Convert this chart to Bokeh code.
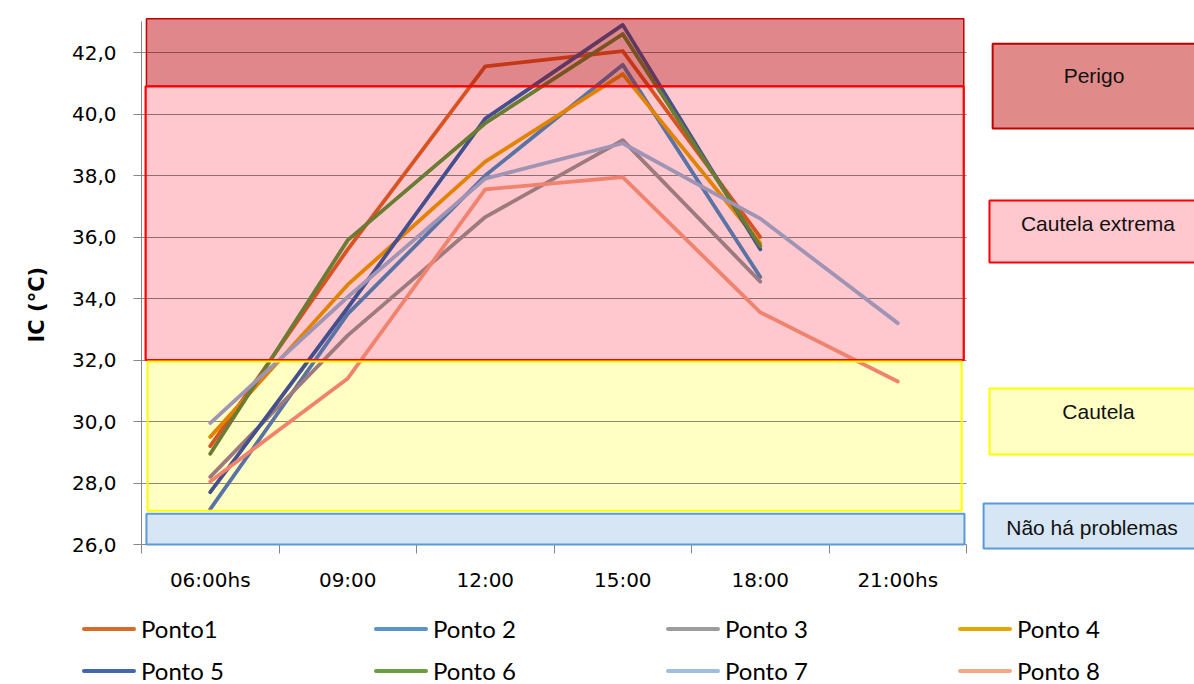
from bokeh.plotting import figure
from bokeh.layouts import column
from bokeh.models import Range1d, FixedTicker, Title, Div
from bokeh.core.properties import value
from bokeh.embed import file_html
from bokeh.resources import INLINE

nan = float("nan")

# ---------------- data ----------------
categories = ["06:00hs", "09:00", "12:00", "15:00", "18:00", "21:00hs"]
series_names = ["Ponto1", "Ponto 2", "Ponto 3", "Ponto 4",
                "Ponto 5", "Ponto 6", "Ponto 7", "Ponto 8"]
ponto1 = [29.2, 35.6, 41.55, 42.05, 36.0, nan]
ponto2 = [27.15, 33.5, 38.0, 41.6, 34.7, nan]
ponto3 = [28.2, 32.8, 36.65, 39.15, 34.55, nan]
ponto4 = [29.5, 34.45, 38.45, 41.3, 35.8, nan]
ponto5 = [27.7, 33.7, 39.85, 42.9, 35.6, nan]
ponto6 = [28.95, 35.9, 39.7, 42.6, 35.7, nan]
ponto7 = [29.95, 34.05, 37.9, 39.05, 36.6, 33.2]
ponto8 = [28.05, 31.4, 37.55, 37.95, 33.55, 31.3]
series_values = [ponto1, ponto2, ponto3, ponto4, ponto5, ponto6, ponto7, ponto8]

y_ticks = [26, 28, 30, 32, 34, 36, 38, 40, 42]
y_tick_labels = ["26,0", "28,0", "30,0", "32,0", "34,0", "36,0", "38,0", "40,0", "42,0"]
y_axis_title = "IC (°C)"

band_names = ["Não há problemas", "Cautela", "Cautela extrema", "Perigo"]
band_bottom = [26.0, 27.1, 32.0, 40.9]
band_top = [27.0, 31.95, 40.9, 43.1]

# ---------------- styles ----------------
series_colors = ["#D86A2A", "#5B93CB", "#9C9C9C", "#E2A800",
                 "#4466B0", "#6A9E3E", "#A0BEE0", "#F0A888"]
band_fill = ["#D6E6F4", "#FFFFC4", "#FFC7CE", "#E08A8A"]
band_line = ["#5B9BD5", "#FFFF00", "#FF0000", "#C00000"]
PINK = band_fill[2]


def mult(c, t):
    c = c.lstrip("#"); t = t.lstrip("#")
    a = [int(c[i:i + 2], 16) for i in (0, 2, 4)]
    b = [int(t[i:i + 2], 16) for i in (0, 2, 4)]
    return "#%02x%02x%02x" % tuple(round(x * y / 255) for x, y in zip(a, b))


xs = [i + 0.5 for i in range(len(categories))]

W = 1194
p = figure(width=W, height=600, output_backend="svg", toolbar_location=None,
           x_range=Range1d(0, 7.658), y_range=Range1d(26, 43.14),
           min_border_left=141, min_border_right=0, min_border_top=17,
           min_border_bottom=56)
p.outline_line_color = None
p.background_fill_color = "white"

# grid
p.xgrid.visible = False
p.ygrid.ticker = FixedTicker(ticks=y_ticks)
p.ygrid.grid_line_color = "black"
p.ygrid.grid_line_alpha = 0.45
p.ygrid.grid_line_width = 1
p.ygrid.cross_bounds = (0, 6)

# plot bands (base fills, under everything)
band_x0 = [0.036, 0.044, 0.030, 0.036]
band_x1 = [5.985, 5.965, 5.98, 5.98]
base_fill = [band_fill[0], band_fill[1], band_fill[2], PINK]
p.quad(left=band_x0, right=band_x1, bottom=band_bottom, top=band_top,
       fill_color=base_fill, line_color=None, level="image")

# series lines (colours as seen through the pink band)
for vals, col in zip(series_values, series_colors):
    p.line(x=xs, y=vals, line_color=mult(col, PINK), line_width=3.8,
           line_join="round", line_cap="round")

# darker overlay for "Perigo"
p.quad(left=[band_x0[3]], right=[band_x1[3]], bottom=[band_bottom[3]], top=[band_top[3]],
       fill_color="#9E0000", fill_alpha=0.32, line_color=None, level="overlay")

# band borders
for i, w in [(3, 1.5), (2, 2.2), (1, 2), (0, 2)]:
    p.quad(left=[band_x0[i]], right=[band_x1[i]], bottom=[band_bottom[i]], top=[band_top[i]],
           fill_color=None, line_color=band_line[i], line_width=w, level="overlay")

# right-side label boxes
box_left = [6.124, 6.167, 6.167, 6.19]
box_right = [8.0, 8.0, 8.0, 8.0]
box_bottom = [25.87, 28.93, 35.17, 39.53]
box_top = [27.33, 31.07, 37.19, 42.29]
p.quad(left=box_left, right=box_right, bottom=box_bottom, top=box_top,
       fill_color=band_fill, line_color=band_line, line_width=2, level="overlay")
text_x = [6.913, 6.96, 6.956, 6.927]
text_y = [26.55, 30.33, 36.44, 41.25]
p.text(x=text_x, y=text_y, text=band_names, text_font=value("Liberation Sans"),
       text_font_size="21px", text_align="center", text_baseline="middle",
       text_color="#111111", level="overlay")

# axes
p.xaxis.ticker = FixedTicker(ticks=xs, minor_ticks=list(range(0, len(categories) + 1)))
p.xaxis.major_label_overrides = {x: c for x, c in zip(xs, categories)}
p.xaxis.major_tick_line_color = None
p.xaxis.major_tick_out = 0
p.xaxis.major_tick_in = 0
p.xaxis.minor_tick_out = 9
p.xaxis.minor_tick_in = 0
p.xaxis.minor_tick_line_color = "#868686"
p.xaxis.axis_line_color = "#868686"
p.xaxis.bounds = (0, len(categories))
p.xaxis.major_label_standoff = 14

p.yaxis.ticker = FixedTicker(ticks=y_ticks)
p.yaxis.major_label_overrides = {t: l for t, l in zip(y_ticks, y_tick_labels)}
p.yaxis.major_tick_out = 8
p.yaxis.major_tick_in = 0
p.yaxis.minor_tick_line_color = None
p.yaxis.major_tick_line_color = "#868686"
p.yaxis.axis_line_color = "#868686"
p.yaxis.bounds = (26, 43.0)
p.yaxis.major_label_standoff = 17

for ax in (p.xaxis, p.yaxis):
    ax.major_label_text_font = "DejaVu Sans"
    ax.major_label_text_font_size = "20px"
    ax.major_label_text_color = "black"

p.add_layout(Title(text=y_axis_title, align="left", offset=202, standoff=39,
                   text_font="DejaVu Sans", text_font_style="bold",
                   text_font_size="21px", text_color="black"), "left")

# ---------------- legend (HTML strip under the chart) ----------------
leg_parts = []
for i, (name, col) in enumerate(zip(series_names, series_colors)):
    r, c = divmod(i, 4)
    x0 = 82 + c * 292
    yc = 29 + r * 42
    leg_parts.append(
        f'<div style="position:absolute;left:{x0}px;top:{yc - 2}px;width:54px;height:4px;'
        f'background:{col};border-radius:2px;"></div>')
    leg_parts.append(
        f'<div style="position:absolute;left:{x0 + 59}px;top:{yc - 16}px;height:32px;'
        f'line-height:32px;white-space:nowrap;font-family:Lato;font-size:24px;color:#000;">'
        f'{name}</div>')
leg_html = ('<div style="position:relative;width:1194px;height:84px;overflow:hidden;">'
            + "".join(leg_parts) + '</div>')
lg = Div(text=leg_html, width=W, height=84, margin=(0, 0, 0, 0))

layout = column(p, lg, spacing=0)
open("out.html", "w").write(file_html(layout, INLINE))
